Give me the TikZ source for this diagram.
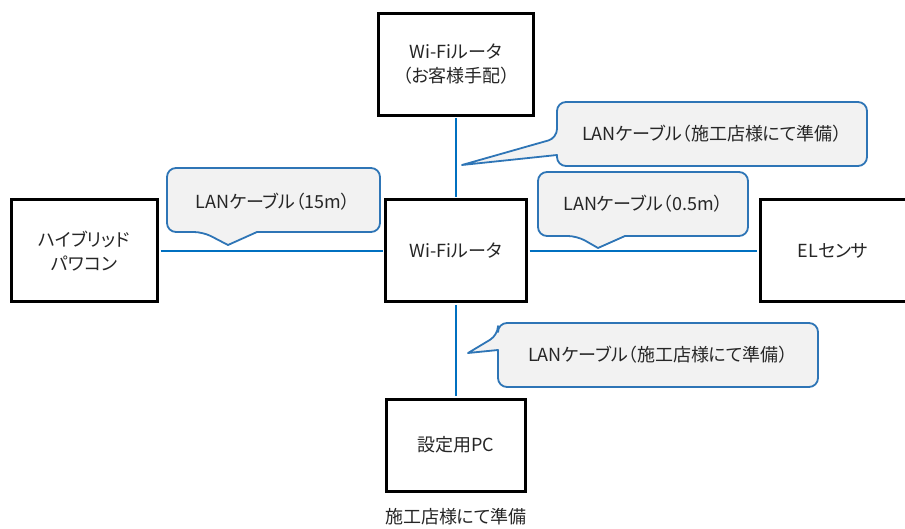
\documentclass[tikz,border=0pt]{standalone}
\usepackage{fontspec}
\setmainfont{Noto Sans CJK JP}[RawFeature=+palt]
\usetikzlibrary{calc}

\definecolor{lanblue}{HTML}{0070C0}
\definecolor{tipblue}{HTML}{2E75B6}
\definecolor{tipfill}{HTML}{F2F2F2}
\definecolor{textgray}{HTML}{262626}

\tikzset{
    device/.style={draw=black, line width=3pt, fill=white, text=textgray, align=center, inner sep=0pt},
    lan/.style={draw=lanblue, line width=2.6pt, shorten <=1.5pt, shorten >=1.5pt},
    tipshape/.style={draw=tipblue, fill=tipfill, line width=1.8pt, line join=round},
    tiptext/.style={text=textgray, inner sep=0pt},
}

\begin{document}
\begin{tikzpicture}[x=1pt, y=-1pt, font=\fontsize{18}{24}\selectfont]
    \useasboundingbox (0,0) rectangle (905,529);
    \clip (0,0) rectangle (905,529);
    % Devices
    \node[device, minimum width=155pt, minimum height=102pt] (wifitop) at (456,64.5) {Wi-Fiルータ\\（お客様手配）};
    \node[device, minimum width=146pt, minimum height=102pt] (hybrid) at (84.5,251) {ハイブリッド\\パワコン};
    \node[device, minimum width=141pt, minimum height=102pt] (router) at (456,251) {Wi-Fiルータ};
    \node[device, minimum width=146pt, minimum height=102pt] (sensor) at (833,251) {ELセンサ};
    \node[device, minimum width=139pt, minimum height=92pt] (pc) at (456,445) {設定用PC};
    \node[text=textgray] (pcnote) at (456,517) {施工店様にて準備}; % Text node
    % LAN cables
    \draw[lan] (hybrid.east) -- (router.west);
    \draw[lan] (router.east) -- (sensor.west);
    \draw[lan] (router.north) -- (wifitop.south);
    \draw[lan] (router.south) -- (pc.north);
    % Callouts
    \path[tipshape] (228,245) -- (257,232) [rounded corners=9pt] -- (380,232) -- (380,168) -- (167,168) -- (167,232) -- (203,232) [sharp corners] -- cycle;
    \node[tiptext] (cable15) at (273,202) {LANケーブル（15m）};
    \path[tipshape] (462,165) -- (557,155) [rounded corners=9pt] -- (557,166) -- (867,166) -- (867,102) -- (557,102) -- (557,138) [sharp corners] -- cycle;
    \node[tiptext] (cabletop) at (712,134) {LANケーブル（施工店様にて準備）};
    \path[tipshape] (598,248) -- (625,236) [rounded corners=9pt] -- (748,236) -- (748,172) -- (538,172) -- (538,236) -- (577,236) [sharp corners] -- cycle;
    \node[tiptext] (cable05) at (643,204) {LANケーブル（0.5m）};
    \path[tipshape] (468,353) -- (498,350) [rounded corners=9pt] -- (498,387) -- (818,387) -- (818,323) -- (498,323) -- (498,335) [sharp corners] -- cycle;
    \node[tiptext] (cablepc) at (658,355) {LANケーブル（施工店様にて準備）};
\end{tikzpicture}
\end{document}
